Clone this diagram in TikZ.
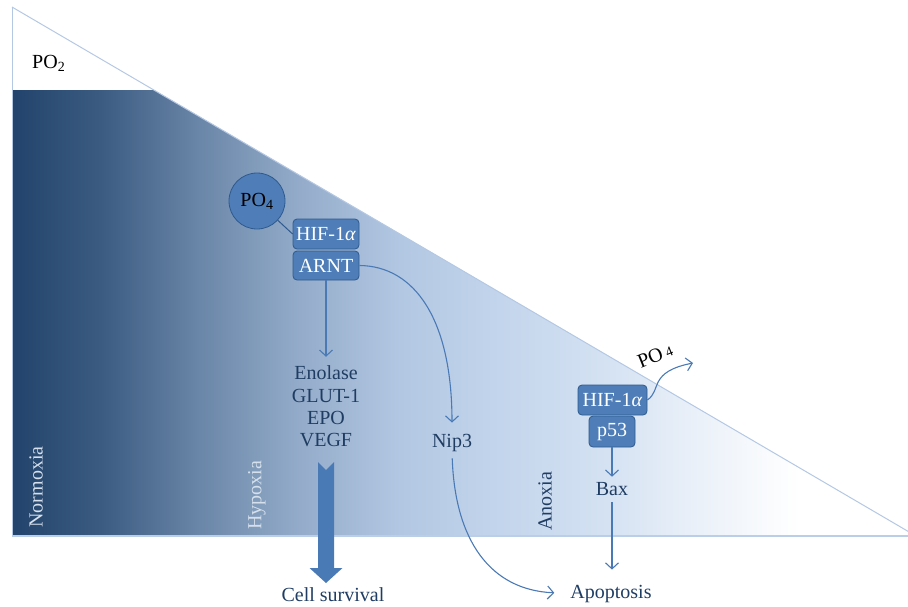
\documentclass[tikz,border=0pt]{standalone}
\usepackage{fontspec}
\setmainfont{Liberation Serif}
\usetikzlibrary{arrows.meta}
\definecolor{navy}{HTML}{1F3D63}
\definecolor{boxfill}{HTML}{4E7DB7}
\definecolor{boxdraw}{HTML}{2E5A8E}
\definecolor{edgeblue}{HTML}{B4C8E4}
\definecolor{arr}{HTML}{4A7AB5}
\definecolor{lightlbl}{HTML}{D6E0EC}
\definecolor{sA}{HTML}{22436B}
\definecolor{sB}{HTML}{3B5B81}
\definecolor{sC}{HTML}{6A86A8}
\definecolor{sD}{HTML}{94ACCA}
\definecolor{sE}{HTML}{B2C7E2}
\definecolor{sF}{HTML}{C3D5EC}
\definecolor{sG}{HTML}{D3E1F2}
\definecolor{sH}{HTML}{EBF1F9}
\pgfdeclarehorizontalshading{bgshade}{100bp}{color(0bp)=(sA); color(25bp)=(sA); color(29.87bp)=(sB); color(35.4bp)=(sC); color(40.93bp)=(sD); color(46.46bp)=(sE); color(51.99bp)=(sF); color(57.52bp)=(sG); color(63.05bp)=(sH); color(68.5bp)=(white); color(100bp)=(white)}
\newcommand\fs{\fontsize{20}{22.3}\selectfont}
\tikzset{
  lbl/.style={font=\fs, text=navy, inner sep=0pt},
  box/.style={draw=boxdraw, fill=boxfill, rounded corners=4pt, text=white, font=\fs, inner sep=0pt, line width=0.8pt},
  conn/.style={draw=arr, line width=1.1pt, -{Straight Barb[length=6pt,width=13pt]}},
  sidelbl/.style={font=\fs, rotate=90, inner sep=0pt},
}
\begin{document}
\begin{tikzpicture}[x=1pt,y=-1pt]
\useasboundingbox (0,0) rectangle (908,606);
% gradient region
\begin{scope}
  \clip (12,90) -- (154,90) -- (916,536) -- (12,536) -- cycle;
  \shade[shading=bgshade] (12,90) rectangle (916,536);
\end{scope}
% outlines
\draw[edgeblue, line width=1pt] (12,7) -- (916,536);
\draw[edgeblue, line width=1pt] (12,7) -- (12,536);
\draw[edgeblue!90!white, line width=2pt] (12,536) -- (908,536);

% labels
\node[font=\fs, inner sep=0pt, anchor=base west] (po2) at (32,68) {PO\textsubscript{2}};
\node[sidelbl, text=lightlbl] (normoxia) at (36,487) {Normoxia};
\node[sidelbl, text=lightlbl] (hypoxia) at (257,495) {Hypoxia};
\node[sidelbl, text=navy] (anoxia) at (545,501) {Anoxia};

% upper complex
\node[circle, fill=boxfill, draw=boxdraw, line width=0.8pt, minimum size=56pt, inner sep=0pt, font=\fs] (po4) at (257,201) {PO\textsubscript{4}};
\node[box, minimum width=66pt, minimum height=30pt] (hif1) at (326,234) {HIF-1\textit{α}};
\node[box, minimum width=66pt, minimum height=29pt] (arnt) at (326,265.5) {ARNT};
\draw[boxdraw, line width=1pt] (po4) -- (hif1.west);

% genes
\node[lbl, align=center] (genes) at (326,406.5) {Enolase\\GLUT-1\\EPO\\VEGF};
\draw[conn, shorten >=9pt] (arnt.south) -- (genes.north);

% big arrow to cell survival
\node[lbl, anchor=base] (cell) at (333,601) {Cell survival};
\fill[arr] (318,462) -- (326,470) -- (334,462) -- (334,568) -- (342.5,568) -- (326,583) -- (309.5,568) -- (318,568) -- cycle;

% Nip3
\node[lbl, anchor=base] (nip3) at (452,447) {Nip3};
\draw[conn, shorten >=11pt] (arnt.east) .. controls (415,266) and (452,320) .. (nip3.north);

% lower complex
\node[box, minimum width=69pt, minimum height=30pt] (hif2) at (612.5,400) {HIF-1\textit{α}};
\node[box, minimum width=46pt, minimum height=31pt] (p53) at (612,431.5) {p53};
\node[font=\fs, rotate=22, inner sep=0pt] (po4b) at (655,356) {PO\,{\fontsize{14}{14}\selectfont 4}};
\coordinate (po4end) at (693,363);
\draw[conn] (hif2.east) .. controls (662,390) and (648,372) .. (po4end);

% Bax and apoptosis
\node[lbl, anchor=base] (bax) at (612,495) {Bax};
\node[lbl, anchor=base] (apop) at (611,598) {Apoptosis};
\draw[conn, shorten >=5pt] (p53.south) -- (bax.north);
\draw[conn, shorten <=7pt, shorten >=15pt] (bax.south) -- (bax.south |- apop.north);
\draw[conn, shorten <=7pt, shorten >=16pt] (nip3.south) .. controls (455,540) and (490,590) .. (apop.west);
\end{tikzpicture}
\end{document}
